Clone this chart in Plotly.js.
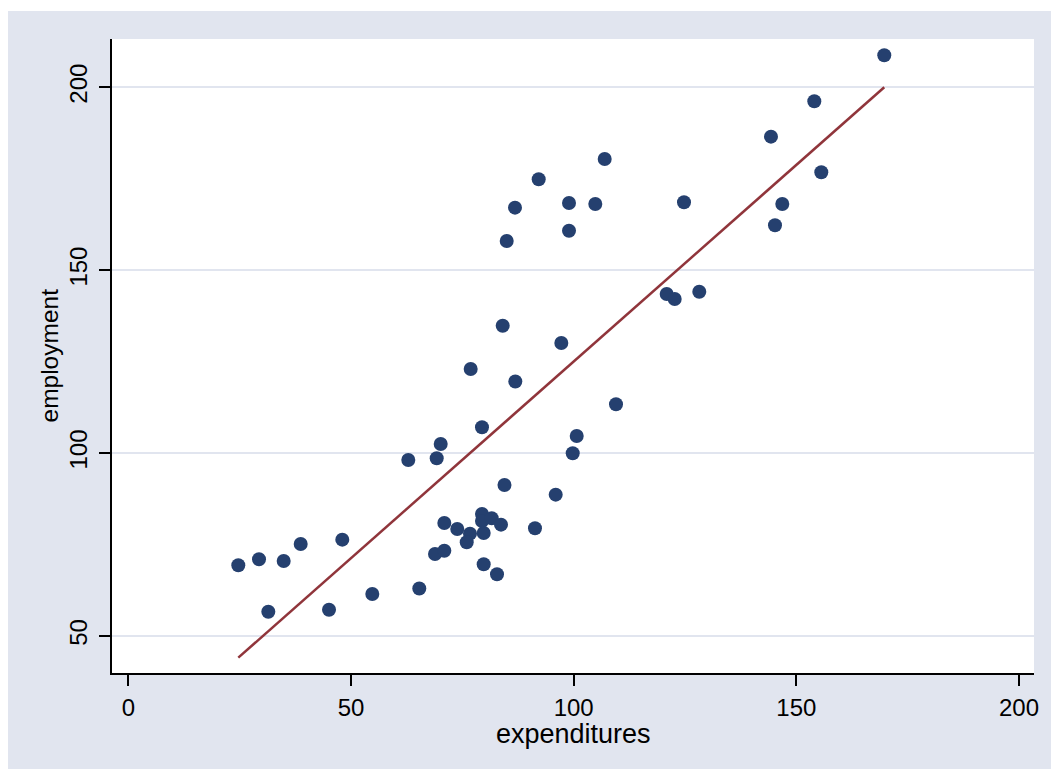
<!DOCTYPE html>
<html>
<head>
<meta charset="utf-8">
<script src="https://cdn.plot.ly/plotly-3.0.1.min.js"></script>
<style>
  html, body { margin: 0; padding: 0; background: #ffffff; width: 1051px; height: 769px; overflow: hidden; }
  #chart { position: absolute; left: 8px; top: 11px; width: 1043px; height: 758px; }
</style>
</head>
<body>
<div id="chart"></div>
<script>
// expenditures (x) and employment (y)
const expenditures = [
  24.7, 29.35, 31.44, 34.89, 38.71, 45.07, 48.05, 54.79, 62.87, 65.34,
  69.25, 70.15, 68.87, 70.96, 70.96, 73.87, 76.73, 75.99, 76.88, 79.42,
  79.42, 81.6, 83.69, 79.8, 79.8, 82.79, 79.42, 84.47, 84.07, 84.97,
  86.83, 86.9, 92.15, 91.32, 95.97, 97.23, 98.96, 98.96, 99.79, 100.69,
  104.86, 106.97, 109.51, 120.89, 122.69, 128.21, 124.78, 144.31, 145.21, 146.85,
  154.04, 155.61, 169.75
];
const employment = [
  69.33, 70.97, 56.64, 70.5, 75.15, 57.19, 76.33, 61.48, 98.11, 62.99,
  98.58, 102.49, 72.42, 73.32, 80.89, 79.25, 77.97, 75.62, 122.99, 83.35,
  81.44, 82.18, 80.43, 78.16, 69.6, 66.87, 107.05, 91.28, 134.83, 157.98,
  167.09, 119.57, 174.85, 79.44, 88.63, 130.1, 168.37, 160.8, 99.95, 104.67,
  168.1, 180.4, 113.34, 143.49, 142.13, 144.12, 168.56, 186.5, 162.27, 168.1,
  196.17, 176.76, 208.75
];
// fitted values line (linear fit), endpoints
const fitX = [24.7, 169.75];
const fitY = [44.07, 200.0];

const xTicks = [0, 50, 100, 150, 200];
const yTicks = [50, 100, 150, 200];
const xTitle = "expenditures";
const yTitle = "employment";

const FONT = "Liberation Sans, Arial, Helvetica, sans-serif";

const traces = [
  {
    type: "scatter", mode: "markers",
    x: expenditures, y: employment,
    marker: { color: "#25406f", size: 14, line: { width: 0 } },
    hoverinfo: "x+y", showlegend: false
  },
  {
    type: "scatter", mode: "lines",
    x: fitX, y: fitY,
    line: { color: "#90353b", width: 2.5 },
    hoverinfo: "skip", showlegend: false
  }
];

const layout = {
  width: 1043, height: 758,
  margin: { l: 104, r: 17, t: 28, b: 96, pad: 0 },
  paper_bgcolor: "#e1e5ef",
  plot_bgcolor: "#ffffff",
  font: { family: FONT, color: "#000000", size: 24 },
  showlegend: false,
  xaxis: {
    range: [-3.66, 203.37],
    tickmode: "array", tickvals: xTicks, ticktext: xTicks.map(String),
    showgrid: false, zeroline: false,
    showline: true, linecolor: "#000000", linewidth: 2,
    ticks: "outside", ticklen: 11, tickwidth: 2, tickcolor: "#000000",
    tickfont: { family: FONT, size: 24, color: "#000000" },
    ticklabelstandoff: 1,
    fixedrange: true
  },
  yaxis: {
    range: [39.88, 213.2],
    tickmode: "array", tickvals: yTicks, ticktext: yTicks.map(String),
    showgrid: true, gridcolor: "#e1e5ef", gridwidth: 2,
    zeroline: false,
    showline: true, linecolor: "#000000", linewidth: 2,
    ticks: "outside", ticklen: 11, tickwidth: 2, tickcolor: "#000000",
    tickangle: -90,
    tickfont: { family: FONT, size: 24, color: "#000000" },
    ticklabelstandoff: 2,
    fixedrange: true
  },
  annotations: [
    {
      text: xTitle, xref: "paper", yref: "paper",
      x: 0.5, y: 0, xanchor: "center", yanchor: "top", yshift: -44,
      showarrow: false, font: { family: FONT, size: 27, color: "#000000" }
    },
    {
      text: yTitle, xref: "paper", yref: "paper",
      x: 0, y: 0.5, xanchor: "right", yanchor: "middle", xshift: -48,
      textangle: -90,
      showarrow: false, font: { family: FONT, size: 24.5, color: "#000000" }
    }
  ]
};

Plotly.newPlot("chart", traces, layout, { displayModeBar: false, staticPlot: true });
</script>
</body>
</html>
